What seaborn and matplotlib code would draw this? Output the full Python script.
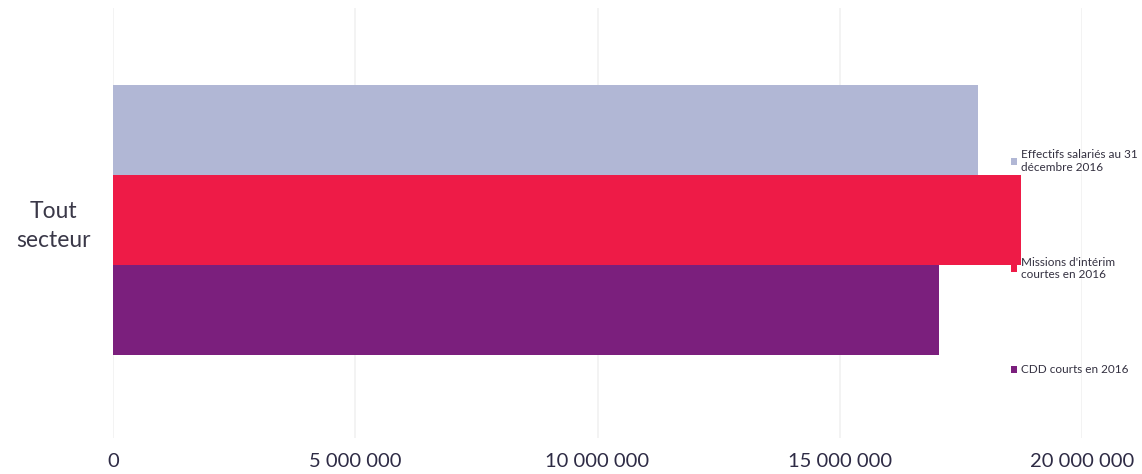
import matplotlib
matplotlib.use("Agg")
import matplotlib.pyplot as plt
from matplotlib.ticker import FuncFormatter, MultipleLocator
import pandas as pd
import seaborn as sns

# data
secteurs = ["Tout\nsecteur"]
series = ["Effectifs salariés au 31\ndécembre 2016",
          "Missions d'intérim\ncourtes en 2016",
          "CDD courts en 2016"]
valeurs = [17_850_000, 18_740_000, 17_050_000]
couleurs = ["#B1B7D5", "#EE1B47", "#7B1F7D"]
x_ticks = [0, 5_000_000, 10_000_000, 15_000_000, 20_000_000]

TEXT_DARK = "#2E2B45"


def set_default_style():
    sns.set_theme(style="whitegrid",
                  rc={
                      "figure.facecolor": "white",
                      "axes.facecolor": "white",
                      "grid.color": "#F1F1F1",
                      "grid.linewidth": 1.2,
                      "axes.spines.left": False,
                      "axes.spines.bottom": False,
                      "axes.spines.right": False,
                      "axes.spines.top": False,
                  })
    # set_theme resets the font family, so set it afterwards
    plt.rcParams["font.family"] = ["Lato", "DejaVu Sans"]


set_default_style()

df = pd.DataFrame({
    "secteur": secteurs * len(series),
    "serie": series,
    "valeur": valeurs,
})

fig = plt.figure(figsize=(11.42, 4.74), dpi=100)
ax = fig.add_axes([113 / 1142, 36 / 474, 969 / 1142, 430 / 474])

sns.barplot(data=df, y="secteur", x="valeur", hue="serie",
            hue_order=series, palette=couleurs, orient="h",
            width=0.8, gap=0, saturation=1, errorbar=None,
            edgecolor="none", ax=ax)

ax.set_xlim(0, x_ticks[-1])
ax.set_ylim(0.646, -0.628)
ax.xaxis.set_major_locator(MultipleLocator(x_ticks[1]))
ax.xaxis.set_major_formatter(
    FuncFormatter(lambda v, _: f"{v:,.0f}".replace(",", " ")))
ax.grid(axis="y", visible=False)
ax.grid(axis="x", visible=True)
ax.set_xlabel("")
ax.set_ylabel("")

ax.tick_params(axis="x", length=0, pad=11, labelsize=14.5, labelcolor=TEXT_DARK)
ax.tick_params(axis="y", length=0, pad=16, labelsize=16.5, labelcolor="#3A3848")
for lab in ax.get_yticklabels():
    lab.set_multialignment("center")
    lab.set_linespacing(1.5)

handles, labels = ax.get_legend_handles_labels()
ax.get_legend().remove()
fig.legend(handles, labels, loc="upper left",
           bbox_to_anchor=(1011 / 1142, 1 - 149 / 474),
           frameon=False, fontsize=8.5, labelcolor="#333040",
           handlelength=0.55, handleheight=0.55, handletextpad=0.3,
           labelspacing=7.1, borderpad=0, borderaxespad=0)

fig.savefig("out.png", dpi=100, facecolor="white")
